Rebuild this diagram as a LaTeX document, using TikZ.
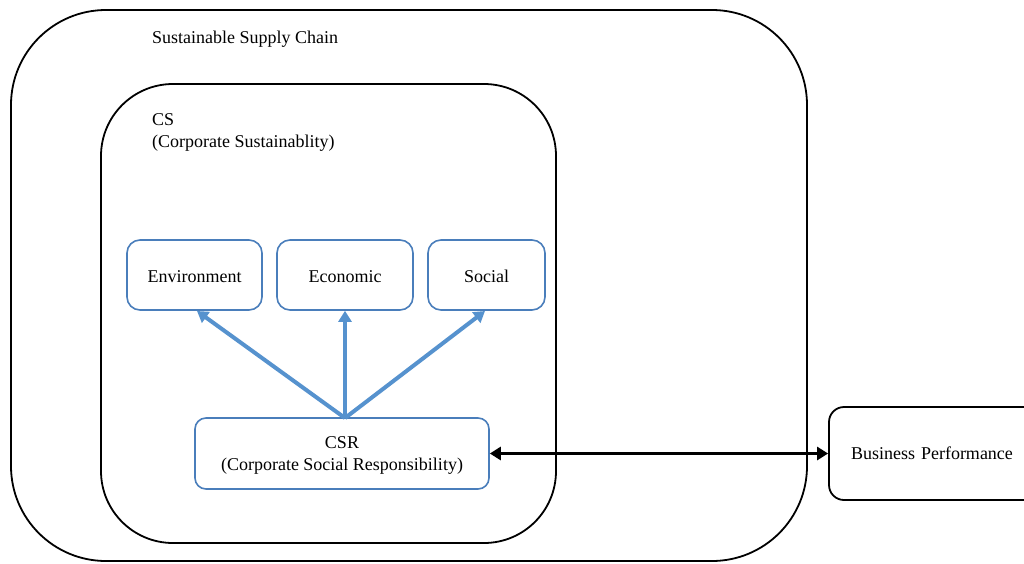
\documentclass[tikz,border=0pt]{standalone}
\usepackage{fontspec}
\setmainfont{Liberation Serif}
\usetikzlibrary{arrows.meta}
\definecolor{boxblue}{RGB}{74,126,187}
\definecolor{arrblue}{RGB}{86,146,206}
\tikzset{
  bigbox/.style={draw=black, line width=1.8pt},
  dimbox/.style={draw=boxblue, line width=1.6pt, rounded corners=13pt},
  lbl/.style={font=\fontsize{18}{22}\selectfont, inner sep=0pt},
  bluearrow/.style={draw=arrblue, line width=4pt, -{Triangle[length=11pt,width=13pt]}},
  blackarrow/.style={draw=black, line width=3.6pt, {Triangle[length=11pt,width=13pt]}-{Triangle[length=11pt,width=13pt]}}
}
\begin{document}
\begin{tikzpicture}[x=1pt,y=-1pt]
\useasboundingbox (0,0) rectangle (1024,563);
% outer
\draw[bigbox, rounded corners=95pt] (11,10) rectangle (807,561);
\node[lbl, anchor=west] (ssc) at (152,39.5) {Sustainable Supply Chain};
% CS
\draw[bigbox, rounded corners=72pt] (101,84) rectangle (556,543);
\node[lbl, anchor=north west, align=left] (cs) at (152,113) {CS\\(Corporate Sustainablity)};
% dimensions
\tikzset{dimtext/.style={text height=15pt, text depth=0pt}}
\node[dimbox, minimum width=135pt, minimum height=70pt, lbl, dimtext] (env) at (194.5,275) {Environment};
\node[dimbox, minimum width=136pt, minimum height=70pt, lbl, dimtext] (eco) at (345,275) {Economic};
\node[dimbox, minimum width=117pt, minimum height=70pt, lbl, dimtext] (soc) at (486.5,275) {Social};
% CSR
\node[dimbox, minimum width=294pt, minimum height=71pt, lbl, align=center, rounded corners=11pt] (csr) at (342,453.5) {\rule{0pt}{15pt}CSR\\(Corporate Social Responsibility)};
% Business performance
\node[draw=black, line width=1.8pt, rounded corners=15pt, minimum width=210pt, minimum height=93pt, lbl, text width=200pt, align=left] (bp) at (934,453.5) {\hspace*{17pt}Business Performance};
% arrows
\coordinate (src) at (345,418);
\draw[bluearrow] (src) -- (197,311);
\draw[bluearrow] (src) -- (eco.south);
\draw[bluearrow] (src) -- (485,311);
\draw[blackarrow] (csr.east) -- (bp.west);
\end{tikzpicture}
\end{document}
